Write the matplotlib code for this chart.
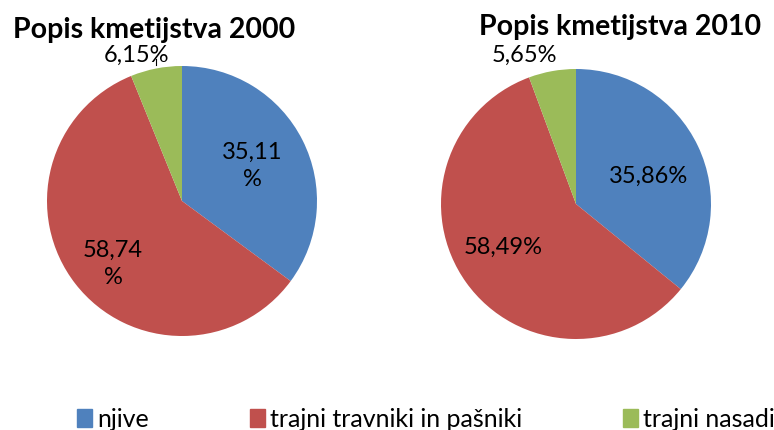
import matplotlib.pyplot as plt
from matplotlib.patches import Patch

plt.rcParams['font.family'] = ['Lato', 'DejaVu Sans']

categories = ['njive', 'trajni travniki in pašniki', 'trajni nasadi']
colors = ['#4F81BD', '#C0504D', '#9BBB59']

vals_2000 = [35.11, 58.74, 6.15]
vals_2010 = [35.86, 58.49, 5.65]
labels_2000 = ['35,11\n%', '58,74\n%', '6,15%']
labels_2010 = ['35,86%', '58,49%', '5,65%']

W, H = 774, 431
fig = plt.figure(figsize=(W / 100, H / 100), dpi=100)


def pie_axes(cx, cy, r):
    return fig.add_axes([(cx - r) / W, 1 - (cy + r) / H, 2 * r / W, 2 * r / H])


def draw(ax, vals, labels, label_pos, title, title_xy):
    ax.pie(vals, colors=colors, startangle=90, counterclock=False,
           radius=1, wedgeprops=dict(linewidth=0))
    ax.set_xlim(-1, 1)
    ax.set_ylim(-1, 1)
    ax.set_aspect('equal')
    ax.axis('off')
    for i, (lab, (x, y)) in enumerate(zip(labels, label_pos)):
        va = 'baseline' if i == 2 else 'center'
        ax.text(x, y, lab, ha='center', va=va, fontsize=17,
                linespacing=1.35, clip_on=False)
    fig.text(title_xy[0] / W, 1 - title_xy[1] / H, title, ha='center',
             va='baseline', fontsize=20.5, fontweight='bold')


ax1 = pie_axes(182, 202, 135)
draw(ax1, vals_2000, labels_2000,
     [(0.52, 0.27), (-0.51, -0.46), (-0.34, 1.037)],
     'Popis kmetijstva 2000', (154, 38))
ax1.plot([-0.19, -0.19], [1.01, 1.05], color='black', lw=0.8, clip_on=False)

ax2 = pie_axes(576, 205, 135)
draw(ax2, vals_2010, labels_2010,
     [(0.54, 0.21), (-0.54, -0.31), (-0.38, 1.06)],
     'Popis kmetijstva 2010', (620, 35))

handles = [Patch(color=c) for c in colors]
leg = fig.legend(handles, categories, loc='center left',
                 bbox_to_anchor=(77 / W, 1 - 420 / H), borderaxespad=0,
                 borderpad=0, ncol=3, frameon=False, fontsize=18,
                 handlelength=0.6, handleheight=0.75, handletextpad=0.2,
                 columnspacing=4.05)

fig.savefig('out.png', dpi=100)
